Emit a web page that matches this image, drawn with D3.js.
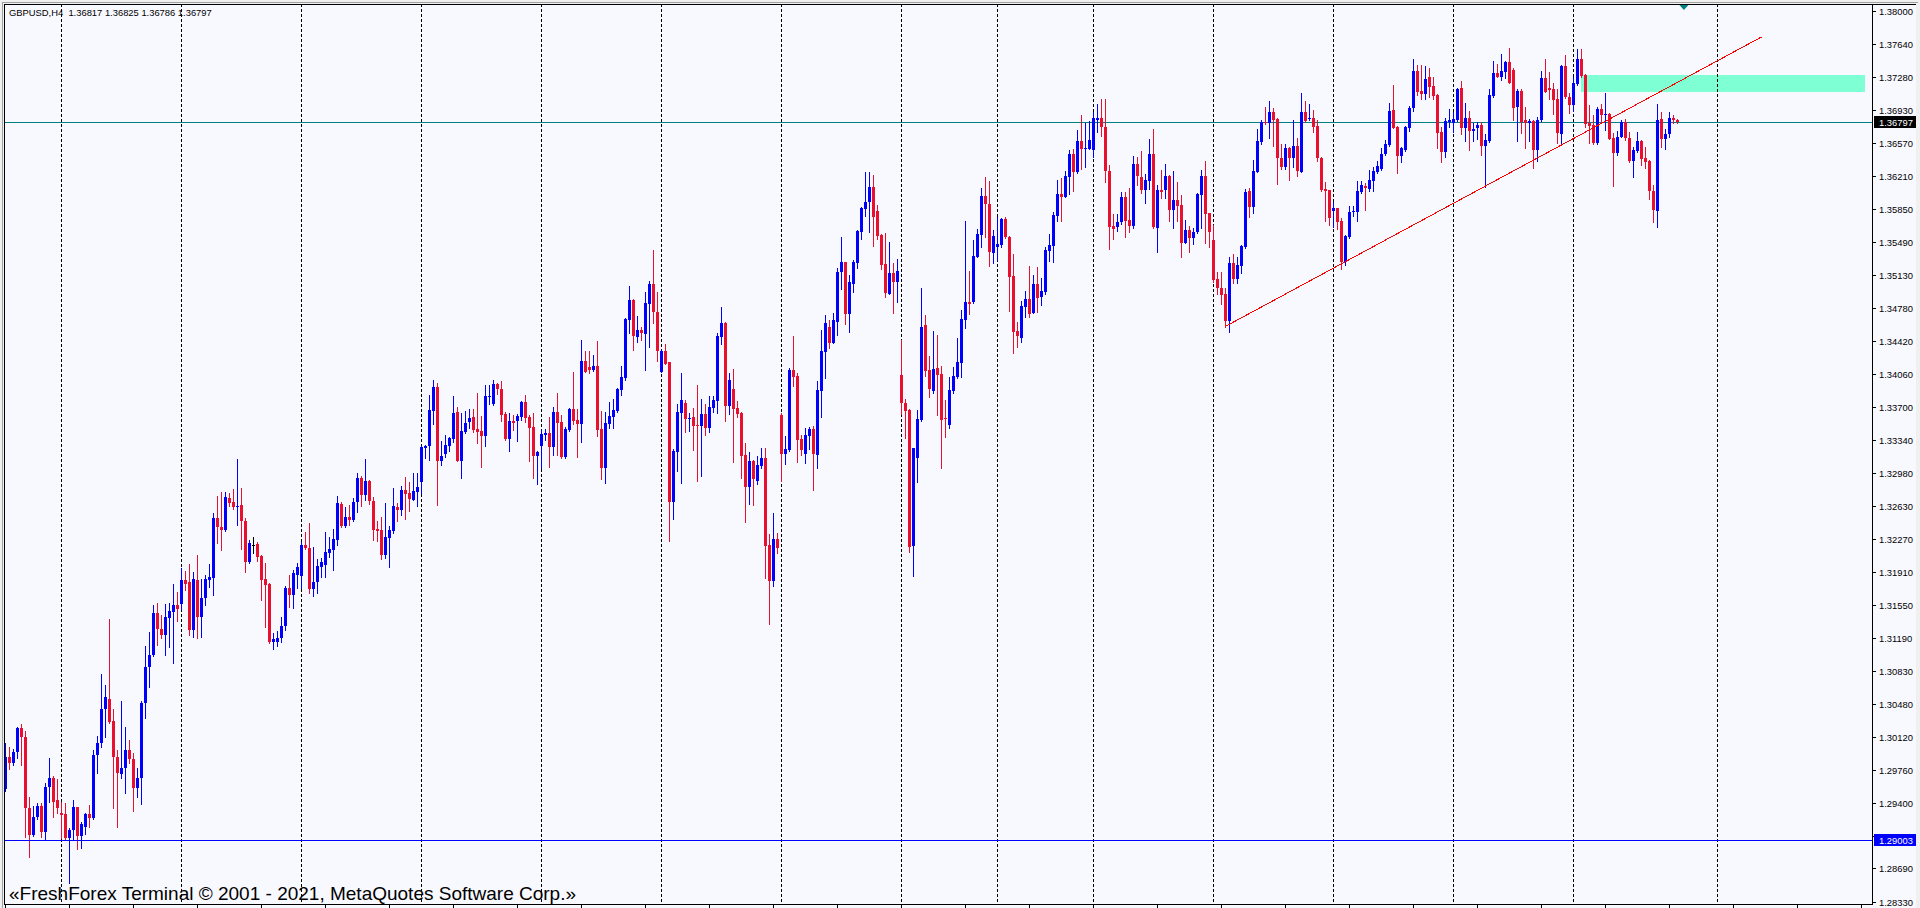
<!DOCTYPE html>
<html><head><meta charset="utf-8">
<script src="https://cdn.jsdelivr.net/npm/d3@7"></script>
<style>html,body{margin:0;padding:0;background:#F0F0F0;overflow:hidden}svg{display:block}</style>
</head><body>
<svg id="chart" width="1920" height="908"></svg>
<script>
// ---------- DATA ----------
const symbolTitle = "GBPUSD,H4";
const lastQuote = [1.36817, 1.36825, 1.36786, 1.36797];
const footerText = "\u00ABFreshForex Terminal \u00A9 2001 - 2021, MetaQuotes Software Corp.\u00BB";

const opens = [
1.29548,1.29895,1.29830,1.29957,1.30210,1.30112,1.29341,1.29052,1.29251,1.29367,
1.29088,1.29570,1.29667,1.29432,1.29287,1.29280,1.29016,1.29106,1.29352,1.29041,
1.29142,1.29280,1.29233,1.29921,1.30047,1.30417,1.30532,1.30290,1.29895,1.29714,
1.29776,1.29975,1.29874,1.29559,1.29667,1.30482,1.30873,1.31007,1.31459,1.31285,
1.31224,1.31412,1.31477,1.31550,1.31561,1.31821,1.31799,1.31278,1.31821,1.31416,
1.31622,1.31821,1.31839,1.32491,1.32393,1.32364,1.32708,1.32672,1.32618,1.32636,
1.32466,1.32020,1.32201,1.32212,1.32082,1.31828,1.31778,1.31148,1.31151,1.31195,
1.31320,1.31738,1.31658,1.31875,1.31868,1.32201,1.32165,1.31723,1.31803,1.31966,
1.31984,1.32111,1.32147,1.32255,1.32646,1.32407,1.32509,1.32473,1.32672,1.32925,
1.32744,1.32900,1.32683,1.32378,1.32364,1.32092,1.32281,1.32357,1.32617,1.32581,
1.32798,1.32769,1.32693,1.32780,1.32889,1.33251,1.33280,1.33660,1.33921,1.33117,
1.33189,1.33276,1.33352,1.33645,1.33117,1.33432,1.33537,1.33591,1.33457,1.33439,
1.33385,1.33812,1.33732,1.33950,1.33895,1.33624,1.33349,1.33548,1.33548,1.33595,
1.33754,1.33595,1.33483,1.33168,1.33276,1.33399,1.33421,1.33269,1.33645,1.33540,
1.33160,1.33450,1.33678,1.33558,1.33515,1.34199,1.34138,1.34102,1.34145,1.33461,
1.33041,1.33515,1.33595,1.33656,1.33884,1.34018,1.34644,1.34862,1.34463,1.34536,
1.34492,1.34818,1.35035,1.34735,1.34083,1.34308,1.34188,1.32671,1.33214,1.33631,
1.33747,1.33569,1.33587,1.33504,1.33497,1.33624,1.33475,1.33685,1.33765,1.34463,
1.34612,1.33714,1.33895,1.33685,1.33638,1.33178,1.32834,1.33113,1.32900,1.33059,
1.33142,1.32201,1.31814,1.32266,1.33613,1.33193,1.33233,1.34102,1.34036,1.33352,
1.33193,1.33388,1.33461,1.33178,1.33877,1.34300,1.34568,1.34398,1.34626,1.35169,
1.35271,1.34710,1.35035,1.35267,1.35604,1.35850,1.35922,1.36085,1.35828,1.35564,
1.35252,1.34930,1.35151,1.35061,1.34047,1.33739,1.33667,1.32194,1.33149,1.33558,
1.34586,1.34101,1.33877,1.34119,1.34058,1.33580,1.33504,1.33873,1.34022,1.34181,
1.34644,1.34840,1.34840,1.35332,1.35567,1.35991,1.35904,1.35376,1.35441,1.35459,
1.35741,1.35546,1.35122,1.34528,1.34452,1.34789,1.34872,1.34724,1.35035,1.34898,
1.34952,1.35397,1.35452,1.35777,1.36013,1.35984,1.36201,1.36447,1.36248,1.36588,
1.36505,1.36505,1.36490,1.36816,1.36834,1.36737,1.36259,1.35665,1.35658,1.35705,
1.35984,1.35730,1.35669,1.36339,1.36201,1.36056,1.36154,1.36447,1.35647,1.36056,
1.36056,1.36208,1.35839,1.35948,1.35893,1.35484,1.35618,1.35531,1.35604,1.36002,
1.36208,1.35803,1.35513,1.35090,1.34995,1.34930,1.34633,1.35260,1.35086,1.35234,
1.35441,1.36049,1.35868,1.36255,1.36581,1.36798,1.36787,1.36900,1.36827,1.36400,
1.36302,1.36516,1.36400,1.36534,1.36255,1.36900,1.36827,1.36834,1.36751,1.36407,
1.36063,1.36052,1.35832,1.35857,1.35723,1.35278,1.35549,1.35821,1.35821,1.36038,
1.36100,1.36063,1.36154,1.36255,1.36281,1.36443,1.36545,1.36925,1.36744,1.36429,
1.36491,1.36733,1.36943,1.37348,1.37131,1.37095,1.37280,1.37186,1.37088,1.36682,
1.36472,1.36795,1.36787,1.36816,1.37160,1.36733,1.36834,1.36700,1.36726,1.36762,
1.36538,1.36592,1.37081,1.37330,1.37287,1.37334,1.37450,1.37359,1.36954,1.37135,
1.36816,1.36780,1.36805,1.36491,1.36816,1.37276,1.37160,1.37153,1.37044,1.36664,
1.37403,1.37070,1.36979,1.37204,1.37479,1.37305,1.36787,1.36762,1.36570,1.36936,
1.36871,1.36878,1.36617,1.36462,1.36635,1.36798,1.36624,1.36375,1.36483,1.36588,
1.36400,1.36371,1.36049,1.35832,1.36827,1.36606,1.36664,1.36834,1.36817];

const highs = [
1.30047,1.30011,1.29982,1.30228,1.30257,1.30181,1.29468,1.29367,1.29403,1.29403,
1.29620,1.29884,1.29693,1.29656,1.29414,1.29396,1.29124,1.29432,1.29359,1.29197,
1.29294,1.29378,1.29975,1.30127,1.30800,1.30681,1.31394,1.30417,1.29975,1.30511,
1.30228,1.30084,1.29939,1.29776,1.30511,1.31104,1.31260,1.31550,1.31568,1.31441,
1.31561,1.31568,1.31778,1.31694,1.31948,1.31923,1.31995,1.31912,1.32093,1.31828,
1.31875,1.31995,1.32552,1.32733,1.32780,1.32780,1.32770,1.32806,1.33132,1.32817,
1.32491,1.32256,1.32284,1.32237,1.32093,1.32002,1.31785,1.31249,1.31267,1.31420,
1.31756,1.31875,1.31930,1.32009,1.32237,1.32342,1.32444,1.32183,1.32045,1.32056,
1.32342,1.32292,1.32378,1.32733,1.32672,1.32617,1.32635,1.32715,1.32987,1.32950,
1.33135,1.32907,1.32726,1.32465,1.32509,1.32654,1.32407,1.32816,1.32661,1.32842,
1.32943,1.32889,1.32979,1.32987,1.33276,1.33287,1.33830,1.33993,1.33957,1.33330,
1.33396,1.33378,1.33819,1.33703,1.33631,1.33656,1.33678,1.33678,1.33855,1.33602,
1.33939,1.33939,1.33993,1.33964,1.33986,1.33642,1.33638,1.33613,1.33624,1.33761,
1.33830,1.33613,1.33631,1.33218,1.33450,1.33457,1.33595,1.33703,1.33848,1.33613,
1.33486,1.33685,1.34083,1.33678,1.34427,1.34308,1.34308,1.34264,1.34416,1.33656,
1.33649,1.33750,1.33786,1.33910,1.34145,1.34663,1.35014,1.34869,1.34688,1.34565,
1.34952,1.35068,1.35405,1.34952,1.34318,1.34384,1.34188,1.33243,1.33732,1.34069,
1.33776,1.33638,1.33689,1.33939,1.33786,1.33732,1.33819,1.33819,1.34507,1.34786,
1.34626,1.34065,1.34112,1.33765,1.33649,1.33305,1.33207,1.33124,1.33164,1.33251,
1.33251,1.32320,1.32545,1.32331,1.33631,1.33388,1.34120,1.34471,1.34065,1.33396,
1.33468,1.33482,1.33493,1.33982,1.34536,1.34699,1.34644,1.34720,1.35206,1.35549,
1.35278,1.35133,1.35296,1.35622,1.35875,1.36252,1.36252,1.36219,1.35893,1.35578,
1.35586,1.35488,1.35260,1.35303,1.34427,1.33783,1.33674,1.33258,1.33667,1.34988,
1.34695,1.34253,1.34525,1.34478,1.34145,1.33776,1.34022,1.34130,1.34445,1.34753,
1.35719,1.35176,1.35513,1.35629,1.36078,1.36194,1.36154,1.35622,1.35766,1.35752,
1.35766,1.35557,1.35361,1.34626,1.34854,1.34959,1.35231,1.35129,1.35220,1.35097,
1.35433,1.35578,1.35814,1.36165,1.36186,1.36266,1.36490,1.36498,1.36708,1.36871,
1.36787,1.36805,1.36900,1.36990,1.37044,1.37044,1.36328,1.35796,1.35796,1.36038,
1.36038,1.36074,1.36425,1.36418,1.36480,1.36226,1.36610,1.36719,1.36110,1.36273,
1.36339,1.36219,1.36262,1.36147,1.36002,1.35730,1.35665,1.35647,1.36020,1.36273,
1.36371,1.35810,1.35676,1.35162,1.35162,1.34988,1.35325,1.35357,1.35325,1.35459,
1.36067,1.36074,1.36382,1.36715,1.36816,1.36954,1.37023,1.36950,1.36842,1.36556,
1.36552,1.36527,1.36816,1.36624,1.37106,1.37023,1.36986,1.36925,1.36816,1.36418,
1.36147,1.36056,1.35929,1.35864,1.35748,1.35567,1.35879,1.35879,1.36154,1.36154,
1.36128,1.36273,1.36310,1.36371,1.36516,1.36599,1.36997,1.37196,1.36755,1.36527,
1.36751,1.36968,1.37479,1.37414,1.37414,1.37403,1.37377,1.37280,1.37099,1.36744,
1.36834,1.36932,1.36907,1.37160,1.37244,1.36997,1.36914,1.36787,1.36798,1.36798,
1.36661,1.37153,1.37461,1.37425,1.37533,1.37461,1.37595,1.37385,1.37149,1.37149,
1.36961,1.36827,1.36816,1.36845,1.37348,1.37479,1.37341,1.37222,1.37153,1.37414,
1.37522,1.37106,1.37287,1.37584,1.37584,1.37312,1.36979,1.36871,1.36961,1.36986,
1.37113,1.36889,1.36672,1.36700,1.36816,1.36827,1.36690,1.36527,1.36690,1.36599,
1.36519,1.36382,1.36110,1.36986,1.36907,1.36719,1.36907,1.36871,1.36825];

const lows = [
1.29533,1.29769,1.29812,1.29884,1.29812,1.29034,1.28809,1.29045,1.29222,1.29026,
1.28998,1.29414,1.29244,1.29287,1.29016,1.28998,1.28534,1.28998,1.28896,1.28907,
1.29063,1.29142,1.29226,1.29722,1.30011,1.30112,1.30265,1.29341,1.29142,1.29667,
1.29504,1.29830,1.29316,1.29461,1.29389,1.30319,1.30663,1.30996,1.31115,1.31188,
1.31007,1.31090,1.30923,1.31380,1.31503,1.31713,1.31224,1.31206,1.31188,1.31206,
1.31550,1.31749,1.31658,1.32227,1.32147,1.32357,1.32625,1.32589,1.32418,1.32154,
1.31912,1.32002,1.32111,1.32031,1.31604,1.31314,1.31133,1.31068,1.31104,1.31150,
1.31280,1.31531,1.31513,1.31730,1.31730,1.32154,1.31683,1.31647,1.31676,1.31857,
1.31857,1.32074,1.31930,1.32201,1.32393,1.32393,1.32418,1.32465,1.32563,1.32625,
1.32690,1.32646,1.32255,1.32244,1.32049,1.32056,1.31966,1.32335,1.32465,1.32527,
1.32487,1.32574,1.32690,1.32628,1.32769,1.33142,1.33124,1.33515,1.32635,1.33073,
1.33153,1.33226,1.33323,1.33117,1.32932,1.33414,1.33468,1.33432,1.33312,1.33048,
1.33276,1.33732,1.33725,1.33841,1.33548,1.33341,1.33226,1.33450,1.33334,1.33559,
1.33540,1.33113,1.32932,1.32867,1.33034,1.33341,1.33052,1.33178,1.33178,1.33149,
1.33149,1.33443,1.33511,1.33157,1.33323,1.34076,1.34072,1.34094,1.33388,1.32918,
1.32878,1.33475,1.33468,1.33649,1.33830,1.33993,1.34500,1.34319,1.34409,1.34427,
1.34102,1.34355,1.34608,1.34203,1.34076,1.34163,1.32248,1.32483,1.33004,1.32878,
1.33432,1.33443,1.33233,1.32896,1.32954,1.33396,1.33425,1.33642,1.33631,1.34384,
1.33548,1.33620,1.33106,1.33595,1.32925,1.32454,1.32646,1.32635,1.32867,1.33034,
1.31846,1.31343,1.31759,1.32118,1.32900,1.33081,1.33225,1.33931,1.33106,1.33178,
1.33095,1.33243,1.32798,1.33041,1.33595,1.34018,1.34344,1.34391,1.34481,1.34981,
1.34601,1.34518,1.34952,1.35213,1.35528,1.35777,1.35604,1.35452,1.35520,1.35198,
1.34898,1.34923,1.34724,1.34843,1.33624,1.33359,1.32128,1.31868,1.32889,1.33551,
1.34040,1.33804,1.33848,1.33613,1.33041,1.33377,1.33475,1.33855,1.34011,1.34022,
1.34561,1.34710,1.34825,1.35325,1.35433,1.35549,1.35234,1.35260,1.35296,1.35441,
1.35531,1.34746,1.34290,1.34355,1.34402,1.34680,1.34680,1.34717,1.34728,1.34807,
1.34927,1.35285,1.35278,1.35723,1.35723,1.35977,1.36013,1.36049,1.36241,1.36288,
1.36302,1.36498,1.36418,1.36690,1.36646,1.36147,1.35415,1.35520,1.35614,1.35683,
1.35549,1.35596,1.35640,1.36110,1.36020,1.35911,1.36067,1.35640,1.35386,1.35966,
1.35966,1.35723,1.35647,1.35719,1.35325,1.35477,1.35386,1.35466,1.35586,1.35640,
1.35477,1.35434,1.35061,1.34923,1.34814,1.34572,1.34510,1.35043,1.35043,1.35151,
1.35430,1.35767,1.35810,1.36248,1.36556,1.36773,1.36624,1.36538,1.36121,1.36284,
1.36284,1.36165,1.36310,1.36212,1.36248,1.36791,1.36816,1.36682,1.36371,1.36049,
1.35719,1.35676,1.35658,1.35633,1.35198,1.35242,1.35538,1.35774,1.35719,1.36027,
1.35839,1.36049,1.36045,1.36244,1.36273,1.36436,1.36534,1.36726,1.36237,1.36364,
1.36483,1.36697,1.36918,1.37088,1.37044,1.37044,1.37070,1.37044,1.36516,1.36364,
1.36418,1.36737,1.36690,1.36805,1.36664,1.36592,1.36491,1.36592,1.36606,1.36436,
1.36092,1.36581,1.37070,1.37280,1.37251,1.37269,1.37215,1.36816,1.36592,1.36679,
1.36516,1.36592,1.36299,1.36375,1.36809,1.37117,1.37041,1.36882,1.36570,1.36563,
1.37052,1.36896,1.36914,1.37196,1.37287,1.36737,1.36570,1.36556,1.36556,1.36780,
1.36708,1.36606,1.36103,1.36436,1.36628,1.36599,1.36364,1.36194,1.36472,1.36324,
1.36291,1.35955,1.35712,1.35658,1.36527,1.36498,1.36635,1.36787,1.36786];

const closes = [
1.29895,1.29830,1.29953,1.30210,1.30112,1.29341,1.29052,1.29251,1.29367,1.29088,
1.29577,1.29667,1.29414,1.29341,1.29269,1.29016,1.29106,1.29352,1.29041,1.29171,
1.29280,1.29233,1.29921,1.30047,1.30417,1.30547,1.30283,1.29895,1.29722,1.29776,
1.29975,1.29874,1.29559,1.29667,1.30489,1.30880,1.31007,1.31459,1.31285,1.31224,
1.31423,1.31484,1.31550,1.31503,1.31821,1.31778,1.31278,1.31832,1.31416,1.31622,
1.31828,1.31857,1.32491,1.32393,1.32364,1.32719,1.32661,1.32618,1.32625,1.32466,
1.32020,1.32219,1.32201,1.32075,1.31821,1.31767,1.31148,1.31177,1.31195,1.31320,
1.31738,1.31658,1.31893,1.31966,1.32201,1.32165,1.31723,1.31803,1.31973,1.32020,
1.32121,1.32158,1.32263,1.32654,1.32407,1.32502,1.32473,1.32672,1.32925,1.32744,
1.32896,1.32683,1.32364,1.32357,1.32092,1.32292,1.32364,1.32625,1.32581,1.32798,
1.32755,1.32701,1.32791,1.32835,1.33262,1.33276,1.33667,1.33921,1.33117,1.33168,
1.33287,1.33367,1.33638,1.33117,1.33439,1.33530,1.33584,1.33450,1.33428,1.33385,
1.33823,1.33823,1.33950,1.33892,1.33613,1.33349,1.33548,1.33522,1.33602,1.33754,
1.33584,1.33475,1.33168,1.33211,1.33407,1.33421,1.33269,1.33645,1.33530,1.33160,
1.33461,1.33678,1.33551,1.33515,1.34199,1.34083,1.34105,1.34145,1.33450,1.33041,
1.33522,1.33606,1.33667,1.33895,1.34025,1.34655,1.34862,1.34474,1.34536,1.34500,
1.34825,1.35035,1.34735,1.34311,1.34311,1.34170,1.32671,1.33222,1.33645,1.33776,
1.33569,1.33584,1.33497,1.33497,1.33624,1.33468,1.33696,1.33776,1.34471,1.34612,
1.33714,1.33993,1.33678,1.33627,1.33171,1.32834,1.33113,1.32918,1.33070,1.33142,
1.32194,1.31814,1.32266,1.32172,1.33193,1.33243,1.34102,1.34029,1.33341,1.33233,
1.33396,1.33461,1.33186,1.33884,1.34308,1.34612,1.34398,1.34644,1.35169,1.35271,
1.34710,1.35053,1.35271,1.35611,1.35861,1.35922,1.36085,1.35766,1.35560,1.35242,
1.34941,1.35151,1.35061,1.35176,1.33747,1.33660,1.32183,1.33251,1.33566,1.34565,
1.34094,1.33891,1.34112,1.34047,1.33558,1.33569,1.33884,1.34036,1.34188,1.34651,
1.34840,1.34822,1.35339,1.35575,1.35991,1.35904,1.35383,1.35557,1.35470,1.35741,
1.35542,1.35108,1.34514,1.34470,1.34796,1.34872,1.34713,1.35035,1.34887,1.34959,
1.35404,1.35459,1.35785,1.36013,1.35984,1.36208,1.36447,1.36255,1.36588,1.36501,
1.36512,1.36599,1.36834,1.36834,1.36737,1.36266,1.35658,1.35629,1.35705,1.35984,
1.35719,1.35669,1.36339,1.36212,1.36056,1.36165,1.36447,1.35654,1.36056,1.36038,
1.36208,1.35839,1.35948,1.35886,1.35484,1.35618,1.35531,1.35604,1.36013,1.36208,
1.35796,1.35604,1.35079,1.34995,1.34916,1.34633,1.35260,1.35086,1.35242,1.35448,
1.36038,1.35875,1.36262,1.36588,1.36798,1.36780,1.36900,1.36816,1.36400,1.36302,
1.36509,1.36400,1.36534,1.36266,1.36900,1.36805,1.36842,1.36744,1.36407,1.36056,
1.36045,1.35756,1.35857,1.35712,1.35271,1.35560,1.35814,1.35832,1.36045,1.36110,
1.36074,1.36165,1.36262,1.36320,1.36447,1.36559,1.36918,1.36733,1.36429,1.36509,
1.36737,1.36950,1.37348,1.37124,1.37095,1.37258,1.37178,1.37081,1.36679,1.36472,
1.36805,1.36816,1.36827,1.37149,1.36733,1.36834,1.36700,1.36719,1.36762,1.36538,
1.36599,1.37088,1.37330,1.37287,1.37348,1.37450,1.37222,1.36950,1.37135,1.36798,
1.36780,1.36805,1.36491,1.36816,1.37276,1.37124,1.37142,1.37034,1.36672,1.37403,
1.37063,1.36979,1.37215,1.37479,1.37298,1.36773,1.36751,1.36570,1.36936,1.36871,
1.36882,1.36614,1.36462,1.36635,1.36798,1.36617,1.36375,1.36491,1.36588,1.36393,
1.36357,1.36049,1.35839,1.36816,1.36606,1.36661,1.36834,1.36816,1.36797];

const priceTicks = [1.38000,1.37640,1.37280,1.36930,1.36570,1.36210,1.35850,1.35490,1.35130,1.34780,
  1.34420,1.34060,1.33700,1.33340,1.32980,1.32630,1.32270,1.31910,1.31550,1.31190,1.30830,1.30480,
  1.30120,1.29760,1.29400,1.29040,1.28690,1.28330];
const weekSeparatorBars = [14,44,74,104,134,164,194,224,248,272,302,332,362,392,428];
const timeTickBars = d3.range(0, 465, 16);
const supportLevel = 1.29003;
const bidPrice = 1.36797;
const trendPoints = [{bar: 305, price: 1.34575}, {bar: 439, price: 1.37718}];
const zone = {barFrom: 394, barTo: 465, top: 1.37305, bottom: 1.37124};
const shiftMarkerBar = 419.6;

// ---------- STYLE ----------
const C = {bg:"#F8F8FF", bull:"#0000FF", bear:"#E8102E", doji:"#000000", grid:"#000000",
  bid:"#008080", support:"#0000FF", trend:"#FF0000", zone:"#7FFFD4", text:"#000000"};
const plot = {left: 4, top: 4, right: 1872, bottom: 904};
const N = opens.length;

const svg = d3.select("#chart");
const x = d3.scaleLinear().domain([0, N - 1]).range([5.5, 5.5 + 4 * (N - 1)]);
const y = d3.scaleLinear().domain([1.2833, 1.38]).range([901.5, 11]);

// window chrome
svg.append("rect").attr("x",0).attr("y",0).attr("width",1920).attr("height",908).attr("fill","#F0F0F0");
svg.append("rect").attr("x",plot.left).attr("y",plot.top).attr("width",1916-plot.left).attr("height",908-plot.top).attr("fill",C.bg);
svg.append("line").attr("x1",2).attr("x2",1918).attr("y1",2.5).attr("y2",2.5).attr("stroke","#A0A0A0");
svg.append("line").attr("x1",2.5).attr("x2",2.5).attr("y1",2).attr("y2",908).attr("stroke","#A0A0A0");

svg.append("defs").append("clipPath").attr("id","plotclip").append("rect")
  .attr("x",plot.left+1).attr("y",plot.top+1).attr("width",plot.right-plot.left-1).attr("height",plot.bottom-plot.top-1);
const g = svg.append("g").attr("clip-path","url(#plotclip)").attr("shape-rendering","crispEdges");

const px = v => Math.floor(x(v)) + 0.5;

// zone rectangle (background object)
g.append("rect")
  .attr("x", Math.floor(x(zone.barFrom))).attr("width", Math.floor(x(zone.barTo)) - Math.floor(x(zone.barFrom)))
  .attr("y", Math.round(y(zone.top))).attr("height", Math.round(y(zone.bottom)) - Math.round(y(zone.top)))
  .attr("fill", C.zone);

// weekly separators
g.selectAll("line.grid").data(weekSeparatorBars).join("line").attr("class","grid")
  .attr("x1", d => px(d)).attr("x2", d => px(d))
  .attr("y1", plot.top).attr("y2", plot.bottom)
  .attr("stroke", C.grid).attr("stroke-dasharray","3,2");

// bid line
g.append("line").attr("x1",plot.left).attr("x2",plot.right)
  .attr("y1", Math.round(y(bidPrice))+0.5).attr("y2", Math.round(y(bidPrice))+0.5).attr("stroke", C.bid);

// candles
const bars = d3.range(N).map(i => ({i, o: opens[i], h: highs[i], l: lows[i], c: closes[i]}));
const col = d => d.c > d.o ? C.bull : (d.c < d.o ? C.bear : C.doji);
const cg = g.append("g");
cg.selectAll("line.wick").data(bars).join("line").attr("class","wick")
  .attr("x1", d => px(d.i)).attr("x2", d => px(d.i))
  .attr("y1", d => Math.round(y(d.h))).attr("y2", d => Math.round(y(d.l)) + 1)
  .attr("stroke", col);
cg.selectAll("rect.body").data(bars).join("rect").attr("class","body")
  .attr("x", d => Math.floor(x(d.i)) - 1).attr("width", 3)
  .attr("y", d => Math.round(y(Math.max(d.o, d.c))))
  .attr("height", d => Math.max(1, Math.round(y(Math.min(d.o, d.c))) - Math.round(y(Math.max(d.o, d.c)))))
  .attr("fill", col);

// support line
g.append("line").attr("x1",plot.left).attr("x2",plot.right)
  .attr("y1", Math.round(y(supportLevel))+0.5).attr("y2", Math.round(y(supportLevel))+0.5).attr("stroke", C.support);

// trend line
g.append("line")
  .attr("x1", x(trendPoints[0].bar)).attr("y1", y(trendPoints[0].price))
  .attr("x2", x(trendPoints[1].bar)).attr("y2", y(trendPoints[1].price))
  .attr("stroke", C.trend).attr("stroke-width", 1);

// shift marker
const sx = x(shiftMarkerBar);
svg.append("path").attr("d", `M${sx-4.5},5 L${sx+4.5},5 L${sx},10 Z`).attr("fill", C.bid);

// frame
svg.append("rect").attr("x",plot.left+0.5).attr("y",plot.top+0.5)
  .attr("width",plot.right-plot.left).attr("height",plot.bottom-plot.top)
  .attr("fill","none").attr("stroke","#000").attr("shape-rendering","crispEdges");
svg.append("line").attr("x1",plot.right).attr("x2",1916).attr("y1",plot.top+0.5).attr("y2",plot.top+0.5)
  .attr("stroke","#000").attr("shape-rendering","crispEdges");

// price axis
const labelLevels = [bidPrice, supportLevel];
const hiddenByLabel = v => labelLevels.some(l => Math.abs(y(l) - y(v)) < 11);
const ax = svg.append("g").attr("shape-rendering","crispEdges");
ax.selectAll("line.tk").data(priceTicks).join("line").attr("class","tk")
  .attr("x1", plot.right+1).attr("x2", plot.right+4)
  .attr("y1", d => Math.round(y(d))+0.5).attr("y2", d => Math.round(y(d))+0.5).attr("stroke","#000");
svg.append("g").selectAll("text").data(priceTicks.filter(v => !hiddenByLabel(v))).join("text")
  .attr("x", 1879).attr("y", d => Math.round(y(d)) + 3.5)
  .attr("font-family","Liberation Sans, Arial, sans-serif").attr("font-size","9.4px").attr("fill", C.text)
  .text(d => d.toFixed(5));

// time axis ticks
svg.append("g").attr("shape-rendering","crispEdges").selectAll("line").data(timeTickBars).join("line")
  .attr("x1", d => px(d)).attr("x2", d => px(d)).attr("y1", plot.bottom).attr("y2", 908).attr("stroke","#000");

// price labels
function priceLabel(v, fill) {
  const yy = Math.round(y(v));
  svg.append("rect").attr("x", plot.right+2).attr("y", yy-6).attr("width", 42).attr("height", 12).attr("fill", fill);
  svg.append("text").attr("x", 1879).attr("y", yy + 3.5)
    .attr("font-family","Liberation Sans, Arial, sans-serif").attr("font-size","9.4px").attr("fill","#FFFFFF")
    .text(v.toFixed(5));
}
priceLabel(bidPrice, "#000000");
priceLabel(supportLevel, C.support);

// title
svg.append("text").attr("x", 9).attr("y", 16)
  .attr("font-family","Liberation Sans, Arial, sans-serif").attr("font-size","9.4px").attr("fill", C.text)
  .attr("xml:space","preserve")
  .text(symbolTitle + "  " + lastQuote.map(v => v.toFixed(5)).join(" "));

// footer
svg.append("text").attr("x", 9).attr("y", 900)
  .attr("font-family","Liberation Sans, Arial, sans-serif").attr("font-size","19px").attr("fill", C.text)
  .text(footerText);
</script>
</body></html>
